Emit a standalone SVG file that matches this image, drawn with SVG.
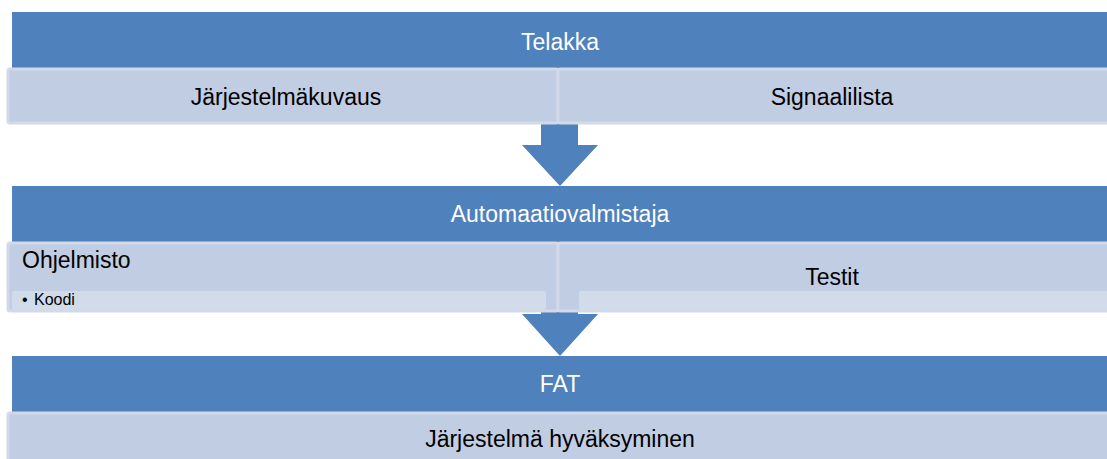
<svg xmlns="http://www.w3.org/2000/svg" width="1107" height="459" viewBox="0 0 1107 459">
  <style>
    .bar { fill: #4f81bd; }
    .sub { fill: #c1cde2; stroke: #d2dae9; stroke-width: 3; }
    .strip { fill: #d2dbea; }
    .arrow { fill: #4f81bd; }
    .head { font-family: "Liberation Sans", Arial, sans-serif; font-size: 23px; fill: #ffffff; text-anchor: middle; }
    .item { font-family: "Liberation Sans", Arial, sans-serif; font-size: 23px; fill: #000000; text-anchor: middle; }
    .left { text-anchor: start; }
    .small { font-size: 16px; }
  </style>

  <g id="connectors">
    <path class="arrow" d="M541 118 H578 V145 H598 L560 186 L522 145 H541 Z"/>
    <path class="arrow" d="M541 300 H578 V314 H598 L560 356 L522 314 H541 Z"/>
  </g>

  <g id="telakka">
    <rect class="bar" x="12" y="12" width="1100" height="56"/>
    <text class="head" x="560" y="50">Telakka</text>
  </g>
  <g id="jarjestelmakuvaus">
    <rect class="sub" x="8" y="69" width="550" height="54" rx="2"/>
    <text class="item" x="286" y="105">Järjestelmäkuvaus</text>
  </g>
  <g id="signaalilista">
    <rect class="sub" x="558" y="69" width="552" height="54" rx="2"/>
    <text class="item" x="832" y="105">Signaalilista</text>
  </g>

  <g id="automaatiovalmistaja">
    <rect class="bar" x="12" y="186" width="1100" height="56"/>
    <text class="head" x="560" y="222">Automaatiovalmistaja</text>
  </g>
  <g id="ohjelmisto">
    <rect class="sub" x="8" y="243" width="550" height="68" rx="2"/>
    <rect class="strip" x="12" y="291" width="534" height="19" rx="2"/>
    <text class="item left" x="22" y="268">Ohjelmisto</text>
    <text class="item left small" y="305"><tspan x="22">•</tspan><tspan x="34">Koodi</tspan></text>
  </g>
  <g id="testit">
    <rect class="sub" x="558" y="243" width="552" height="68" rx="2"/>
    <rect class="strip" x="579" y="291" width="530" height="19" rx="2"/>
    <text class="item" x="832" y="285">Testit</text>
  </g>

  <g id="fat">
    <rect class="bar" x="12" y="356" width="1100" height="56"/>
    <text class="head" x="560" y="392">FAT</text>
  </g>
  <g id="hyvaksyminen">
    <rect class="sub" x="8" y="413" width="1102" height="50" rx="2"/>
    <text class="item" x="560" y="447">Järjestelmä hyväksyminen</text>
  </g>
</svg>
